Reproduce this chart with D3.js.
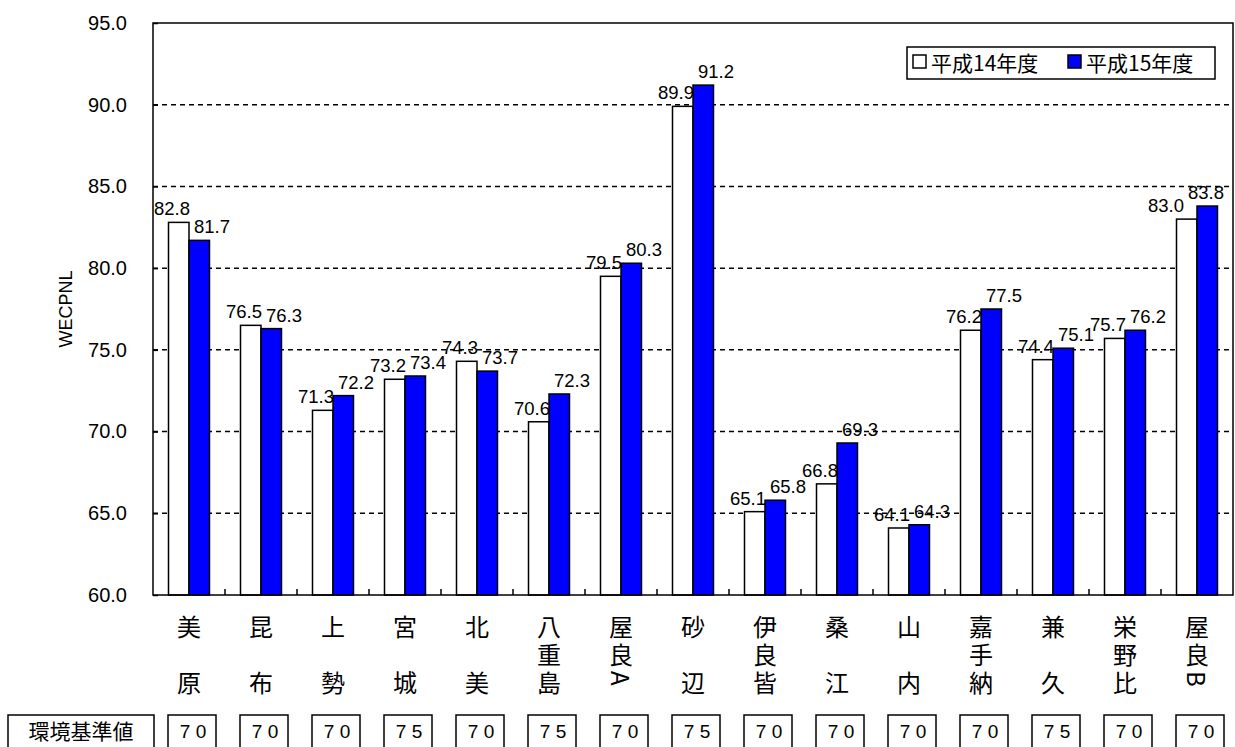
<!DOCTYPE html>
<html>
<head>
<meta charset="utf-8">
<script src="https://cdn.jsdelivr.net/npm/d3@7"></script>
<style>
  body { margin: 0; background: #fff; }
  text { font-family: "Liberation Sans", Arial, sans-serif; fill: #000; }
  .jp { font-family: "Noto Sans CJK JP", sans-serif; }
  .vert { writing-mode: vertical-rl; text-orientation: mixed; }
</style>
</head>
<body>
<div class="Aligner"></div>
<script>
// 測定地点
var sites = ["美原", "昆布", "上勢", "宮城", "北美", "八重島", "屋良A", "砂辺", "伊良皆", "桑江", "山内", "嘉手納", "兼久", "栄野比", "屋良B"];
// 平成14年度
var h14 = [82.8, 76.5, 71.3, 73.2, 74.3, 70.6, 79.5, 89.9, 65.1, 66.8, 64.1, 76.2, 74.4, 75.7, 83.0];
// 平成15年度
var h15 = [81.7, 76.3, 72.2, 73.4, 73.7, 72.3, 80.3, 91.2, 65.8, 69.3, 64.3, 77.5, 75.1, 76.2, 83.8];
// 環境基準値
var standard = [70, 70, 70, 75, 70, 75, 70, 75, 70, 70, 70, 70, 75, 70, 70];
var yTicks = [60, 65, 70, 75, 80, 85, 90, 95];
var seriesNames = ["平成14年度", "平成15年度"];

var W = 1235, H = 747;
var plot = {left: 153, right: 1233, top: 23, bottom: 595};
var barW = 20.5;
var labelW = 37;

var svg = d3.select(".Aligner")
  .append("svg")
  .attr("width", W)
  .attr("height", H);

var x = d3.scaleBand().domain(sites).range([plot.left, plot.right]).padding(0);
var y = d3.scaleLinear().domain([60, 95]).range([plot.bottom, plot.top]);

function cx(d){ return x(d) + x.bandwidth() / 2; }

// keep value labels inside the picture
function shiftFor(d){
  var start = cx(d.site) + 5;
  return Math.min(0, (W - 10 - labelW) - start);
}

// grid lines
svg.append("g")
  .selectAll("line")
  .data(yTicks.filter(function(t){ return t > 60 && t < 95; }))
  .enter().append("line")
  .attr("x1", plot.left).attr("x2", plot.right)
  .attr("y1", function(d){ return y(d); })
  .attr("y2", function(d){ return y(d); })
  .style("stroke", "#000")
  .style("stroke-width", 1.5)
  .style("stroke-dasharray", "5,4");

// bars
var rows = sites.map(function(s, i){ return {site: s, a: h14[i], b: h15[i]}; });

svg.append("g").selectAll("rect")
  .data(rows)
  .enter().append("rect")
  .attr("x", function(d){ return cx(d.site) - barW; })
  .attr("y", function(d){ return y(d.a); })
  .attr("width", barW)
  .attr("height", function(d){ return y(60) - y(d.a); })
  .style("fill", "#fff")
  .style("stroke", "#000")
  .style("stroke-width", 1.5);

svg.append("g").selectAll("rect")
  .data(rows)
  .enter().append("rect")
  .attr("x", function(d){ return cx(d.site); })
  .attr("y", function(d){ return y(d.b); })
  .attr("width", barW)
  .attr("height", function(d){ return y(60) - y(d.b); })
  .style("fill", "#0000ff")
  .style("stroke", "#000")
  .style("stroke-width", 1.5);

// value labels
svg.append("g").selectAll("text")
  .data(rows)
  .enter().append("text")
  .attr("x", function(d){ return cx(d.site) + 1 + shiftFor(d); })
  .attr("y", function(d){ return y(d.a) - 7; })
  .attr("text-anchor", "end")
  .style("font-size", "18.5px")
  .text(function(d){ return d.a.toFixed(1); });

svg.append("g").selectAll("text")
  .data(rows)
  .enter().append("text")
  .attr("x", function(d){ return cx(d.site) + 5 + shiftFor(d); })
  .attr("y", function(d){ return y(d.b) - 7; })
  .attr("text-anchor", "start")
  .style("font-size", "18.5px")
  .text(function(d){ return d.b.toFixed(1); });

// plot frame
svg.append("rect")
  .attr("x", plot.left).attr("y", plot.top)
  .attr("width", plot.right - plot.left)
  .attr("height", plot.bottom - plot.top)
  .style("fill", "none")
  .style("stroke", "#000")
  .style("stroke-width", 1.5);

// y axis
var yAxis = svg.append("g")
  .attr("transform", "translate(" + plot.left + ",0)")
  .call(d3.axisLeft(y).tickValues(yTicks).tickFormat(d3.format(".1f"))
    .tickSizeInner(-5).tickSizeOuter(0).tickPadding(26));
yAxis.select(".domain").remove();
yAxis.selectAll("line").style("stroke", "#000").style("stroke-width", 1.5);
yAxis.selectAll("text")
  .style("font-size", "20px")
  .style("font-family", "'Liberation Sans', Arial, sans-serif");

svg.append("text")
  .attr("transform", "translate(72,309) rotate(-90)")
  .attr("text-anchor", "middle")
  .style("font-size", "18px")
  .text("WECPNL");

// x ticks between categories
svg.append("g").selectAll("line")
  .data(sites.slice(1))
  .enter().append("line")
  .attr("x1", function(d){ return x(d); })
  .attr("x2", function(d){ return x(d); })
  .attr("y1", plot.bottom)
  .attr("y2", plot.bottom - 6)
  .style("stroke", "#000")
  .style("stroke-width", 1.5);

// category labels, vertical writing; two-char names get a blank middle row
svg.append("g").selectAll("text")
  .data(sites)
  .enter().append("text")
  .attr("class", "jp vert")
  .attr("x", function(d){ return cx(d); })
  .attr("y", 615)
  .style("font-size", "24px")
  .style("letter-spacing", "4px")
  .text(function(d){
    return d.length == 2 ? d.charAt(0) + "\u3000" + d.charAt(1) : d;
  });

// standard value boxes
svg.append("rect")
  .attr("x", 8).attr("y", 715).attr("width", 146).attr("height", 40)
  .style("fill", "#fff").style("stroke", "#000").style("stroke-width", 1.5);
svg.append("text")
  .attr("class", "jp")
  .attr("x", 81).attr("y", 738.5)
  .attr("text-anchor", "middle")
  .style("font-size", "21px")
  .text("環境基準値");

var boxG = svg.append("g").selectAll("g")
  .data(standard)
  .enter().append("g")
  .attr("transform", function(d, i){ return "translate(" + (cx(sites[i]) + 3) + ",0)"; });
boxG.append("rect")
  .attr("x", -24).attr("y", 715).attr("width", 48).attr("height", 40)
  .style("fill", "#fff").style("stroke", "#000").style("stroke-width", 1.5);
boxG.append("text")
  .attr("x", 1).attr("y", 738)
  .attr("text-anchor", "middle")
  .style("font-size", "19px")
  .text(function(d){ return String(d).split("").join(" "); });

// legend
var lg = svg.append("g");
lg.append("rect")
  .attr("x", 907).attr("y", 47).attr("width", 308).attr("height", 32)
  .style("fill", "#fff").style("stroke", "#000").style("stroke-width", 1.5);
var legendX = [913, 1068];
var legendFill = ["#fff", "#0000ff"];
seriesNames.forEach(function(n, i){
  lg.append("rect")
    .attr("x", legendX[i]).attr("y", 55).attr("width", 13).attr("height", 13)
    .style("fill", legendFill[i]).style("stroke", "#000").style("stroke-width", 1.5);
  lg.append("text")
    .attr("class", "jp")
    .attr("x", legendX[i] + 18).attr("y", 70.5)
    .style("font-size", "21px")
    .text(n);
});
</script>
</body>
</html>
